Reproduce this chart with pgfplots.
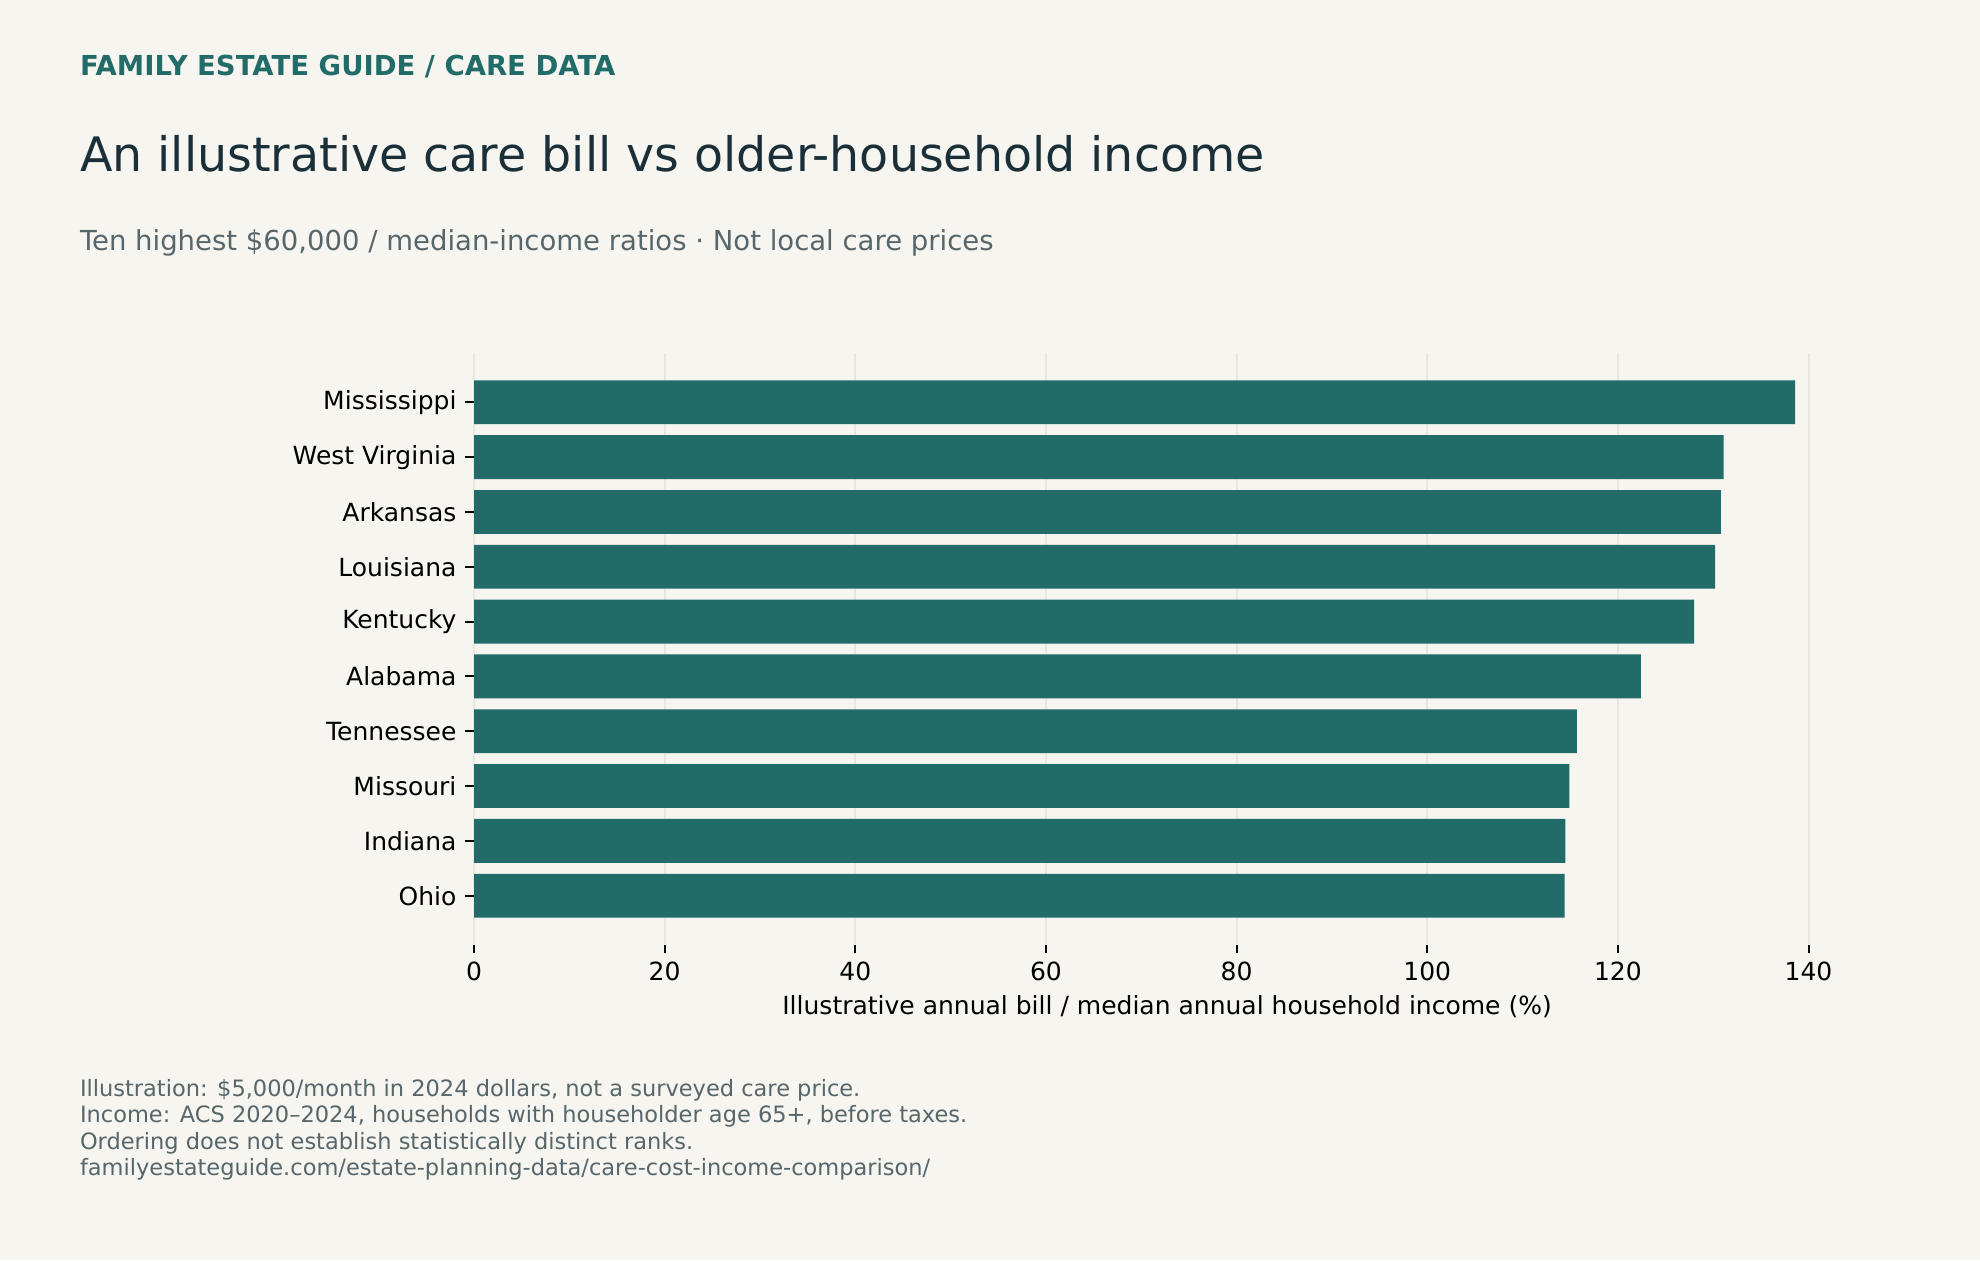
\documentclass[border=0pt]{standalone}
\usepackage{fontspec}
\setmainfont{DejaVu Sans}
\usepackage{pgfplots}
\pgfplotsset{compat=1.18}
\definecolor{bg}{HTML}{F6F5F0}
\definecolor{teal}{HTML}{216C69}
\definecolor{ink}{HTML}{1B2F38}
\definecolor{muted}{HTML}{56666B}
\definecolor{gridc}{HTML}{E9E7E1}
\begin{document}
\begin{tikzpicture}
\fill[bg] (0,0) rectangle (792pt,504pt);
\node[anchor=base west,inner sep=0,text=teal,font=\fontsize{11}{13}\selectfont\bfseries] at (31.8pt,473.7pt) {FAMILY ESTATE GUIDE / CARE DATA};
\node[anchor=base west,inner sep=0,text=ink,font=\fontsize{19}{23}\selectfont] at (31.8pt,435.3pt) {An illustrative care bill vs older-household income};
\node[anchor=base west,inner sep=0,text=muted,font=\fontsize{11}{13}\selectfont] at (31.8pt,403.6pt) {Ten highest \$60,000 / median-income ratios · Not local care prices};
\begin{axis}[
	at={(189.6pt,126.2pt)},
	anchor=south west,
	scale only axis,
	width=554.4pt,
	height=236.4pt,
	xbar,
	bar width=0.8,
	bar shift=0pt,
	xmin=0, xmax=145.4,
	ymin=-0.89, ymax=9.89,
	y dir=reverse,
	ytick={0,...,9},
	yticklabels={Mississippi,West Virginia,Arkansas,Louisiana,Kentucky,Alabama,Tennessee,Missouri,Indiana,Ohio},
	xtick={0,20,...,140},
	axis line style={draw=none},
	tick align=outside,
	major tick length=3.5pt,
	tick style={black,line width=0.8pt},
	xtick pos=bottom,
	ytick pos=left,
	xmajorgrids,
	grid style={gridc,line width=0.8pt},
	tick label style={font=\fontsize{10}{12}\selectfont,black},
	/pgf/number format/assume math mode=true,
	xlabel={Illustrative annual bill / median annual household income (\%)},
	xlabel style={font=\fontsize{10}{12}\selectfont,at={(axis description cs:0.5,0)},anchor=base,yshift=-28pt},
]
\addplot[fill=teal,draw=none] coordinates {
	(138.6,0) (131.1,1) (130.8,2) (130.2,3) (128.0,4)
	(122.4,5) (115.7,6) (114.9,7) (114.5,8) (114.4,9)
};
\end{axis}
\node[anchor=base west,inner sep=0,text=muted,font=\fontsize{9}{11}\selectfont] at (31.8pt,65.6pt) {Illustration: \$5,000/month in 2024 dollars, not a surveyed care price.};
\node[anchor=base west,inner sep=0,text=muted,font=\fontsize{9}{11}\selectfont] at (31.8pt,55.0pt) {Income: ACS 2020–2024, households with householder age 65+, before taxes.};
\node[anchor=base west,inner sep=0,text=muted,font=\fontsize{9}{11}\selectfont] at (31.8pt,44.4pt) {Ordering does not establish statistically distinct ranks.};
\node[anchor=base west,inner sep=0,text=muted,font=\fontsize{9}{11}\selectfont] at (31.8pt,33.8pt) {familyestateguide.com/estate-planning-data/care-cost-income-comparison/};
\end{tikzpicture}
\end{document}
